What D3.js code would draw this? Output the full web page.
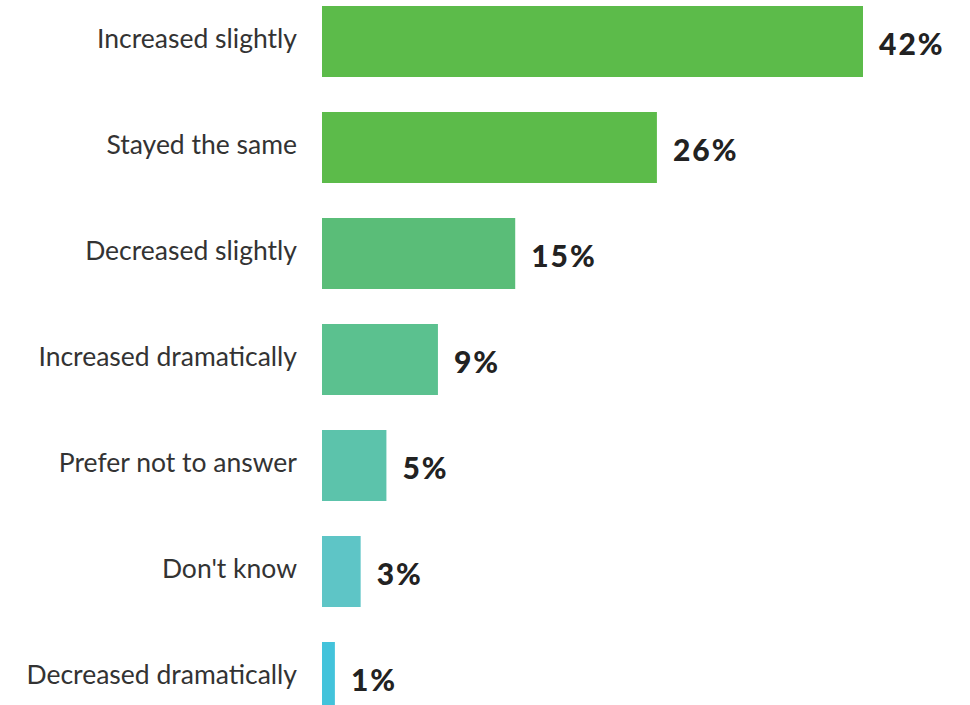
<!DOCTYPE html>
<html>
<head>
<meta charset="utf-8">
<script src="https://cdn.jsdelivr.net/npm/d3@7"></script>
<style>
  html, body { margin: 0; padding: 0; background: #ffffff; }
  svg { display: block; }
</style>
</head>
<body>
<svg id="chart" width="970" height="705"></svg>
<script>
// Survey responses, share of respondents (%)
const categories = [
  "Increased slightly",
  "Stayed the same",
  "Decreased slightly",
  "Increased dramatically",
  "Prefer not to answer",
  "Don't know",
  "Decreased dramatically"
];
const values = [42, 26, 15, 9, 5, 3, 1];
const barColors = ["#5cbb4a", "#5cbb4a", "#5abd78", "#5bc18f", "#5cc3ab", "#5ec5c6", "#43c3db"];

const svg = d3.select("#chart");
const barLeft = 322;

const x = d3.scaleLinear().domain([0, 42]).range([0, 541]);
const y = d3.scaleBand()
  .domain(categories)
  .range([6, 713])
  .paddingInner(35 / 106)
  .paddingOuter(0);

const rows = categories.map((c, i) => ({ cat: c, val: values[i], color: barColors[i] }));

const g = svg.append("g");

g.selectAll("rect.bar")
  .data(rows)
  .join("rect")
  .attr("class", "bar")
  .attr("x", barLeft)
  .attr("y", d => y(d.cat))
  .attr("width", d => x(d.val))
  .attr("height", y.bandwidth())
  .attr("fill", d => d.color);

// Category names, right-aligned left of the bars
g.selectAll("text.cat")
  .data(rows)
  .join("text")
  .attr("class", "cat")
  .attr("x", 297)
  .attr("y", d => y(d.cat) + y.bandwidth() / 2 - 4)
  .attr("text-anchor", "end")
  .attr("dominant-baseline", "central")
  .style("font-family", "Lato, 'Open Sans', sans-serif")
  .style("font-size", "26.5px")
  .style("fill", "#333333")
  .text(d => d.cat);

// Value labels at the end of each bar
g.selectAll("text.val")
  .data(rows)
  .join("text")
  .attr("class", "val")
  .attr("x", d => barLeft + x(d.val) + 16)
  .attr("y", d => y(d.cat) + y.bandwidth() / 2 + 1)
  .attr("dominant-baseline", "central")
  .style("font-family", "Lato, sans-serif")
  .style("font-weight", "900")
  .style("font-size", "30px")
  .style("letter-spacing", "2px")
  .style("fill", "#222222")
  .text(d => d.val + "%");
</script>
</body>
</html>
